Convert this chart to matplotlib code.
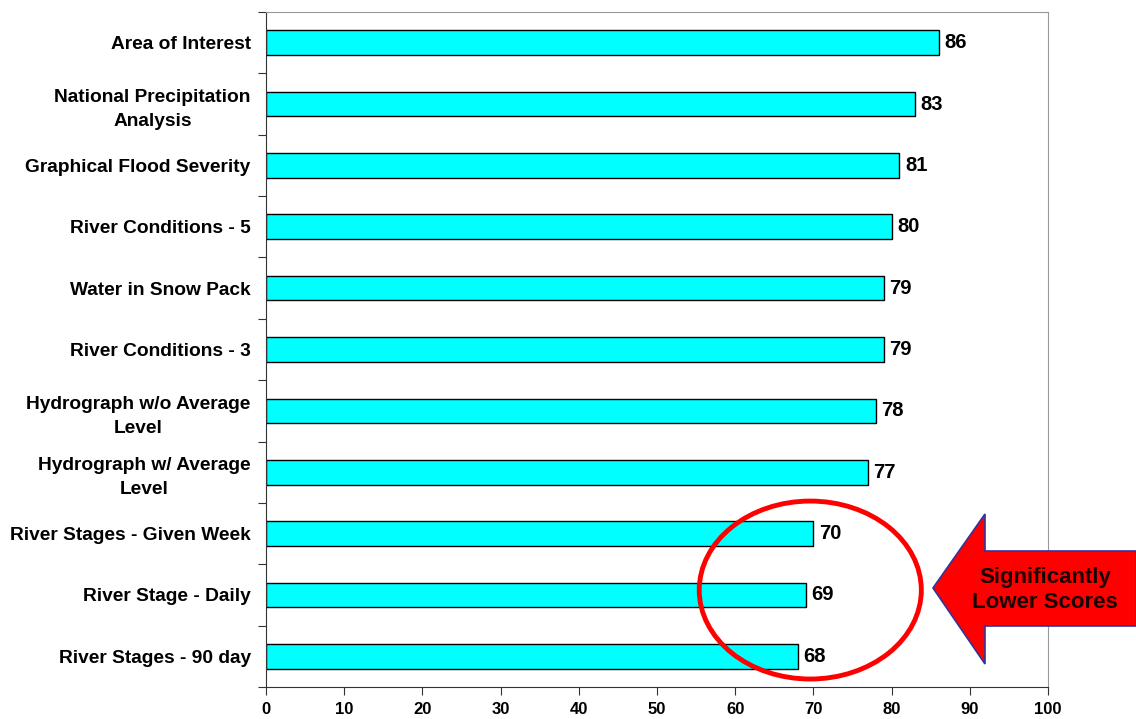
import matplotlib.pyplot as plt
from matplotlib.patches import Ellipse, Polygon

categories = ["Area of Interest", "National Precipitation\nAnalysis",
              "Graphical Flood Severity", "River Conditions - 5",
              "Water in Snow Pack", "River Conditions - 3",
              "Hydrograph w/o Average\nLevel", "Hydrograph w/ Average\nLevel",
              "River Stages - Given Week", "River Stage - Daily",
              "River Stages - 90 day"]
scores = [86, 83, 81, 80, 79, 79, 78, 77, 70, 69, 68]
xticks = list(range(0, 101, 10))

plt.rcParams['font.family'] = ['Liberation Sans', 'DejaVu Sans']
plt.rcParams['font.weight'] = 'bold'

fig = plt.figure(figsize=(11.36, 7.19), dpi=100)
ax = fig.add_axes([266/1136, 1-687/719, (1048-266)/1136, (687-12)/719])

ypos = list(range(len(categories)))
ax.barh(ypos, scores, height=0.4, color='#00FFFF', edgecolor='black', linewidth=1)
for y, v in zip(ypos, scores):
    ax.text(v + 0.7, y, str(v), va='center', ha='left', fontsize=14.5, fontweight='bold')

ax.set_xlim(0, 100)
ax.set_ylim(len(categories) - 0.5, -0.5)
ax.set_xticks(xticks)
ax.set_xticklabels([str(t) for t in xticks], fontsize=12, fontweight='bold')
# major ticks sit between categories, labels go on minor ticks at bar centres
ax.set_yticks([i + 0.5 for i in range(-1, len(categories))], minor=False)
ax.set_yticklabels([])
ax.set_yticks(ypos, minor=True)
ax.set_yticklabels(categories, minor=True, fontsize=13.8, fontweight='bold',
                   ha='right', multialignment='center', linespacing=1.55)
ax.tick_params(axis='y', which='minor', length=0, pad=11)
ax.tick_params(axis='y', which='major', length=6, direction='out', color='#333333')
ax.tick_params(axis='x', length=6, direction='out', pad=5, color='#333333')
ax.spines['left'].set_color('#333333')
ax.spines['bottom'].set_color('#333333')
ax.spines['top'].set_color('#999999')
ax.spines['right'].set_color('#999999')

ell = Ellipse((69.6, 8.92), 28.4, 2.9, fill=False, edgecolor='#FF0000',
              linewidth=3.5, clip_on=False)
ax.add_patch(ell)

pts = [(933, 588), (985, 514), (985, 551), (1136, 551), (1136, 626), (985, 626), (985, 664)]
arrow = Polygon([(x/1136, 1 - y/719) for x, y in pts], closed=True, transform=fig.transFigure,
                facecolor='#FF0000', edgecolor='#333399', linewidth=1.2)
fig.patches.append(arrow)
fig.text(1045/1136, 1 - 590/719, "Significantly\nLower Scores", ha='center', va='center',
         fontsize=16, fontweight='bold', color='#1a0000', linespacing=1.2)

fig.savefig('out.png', dpi=100)
